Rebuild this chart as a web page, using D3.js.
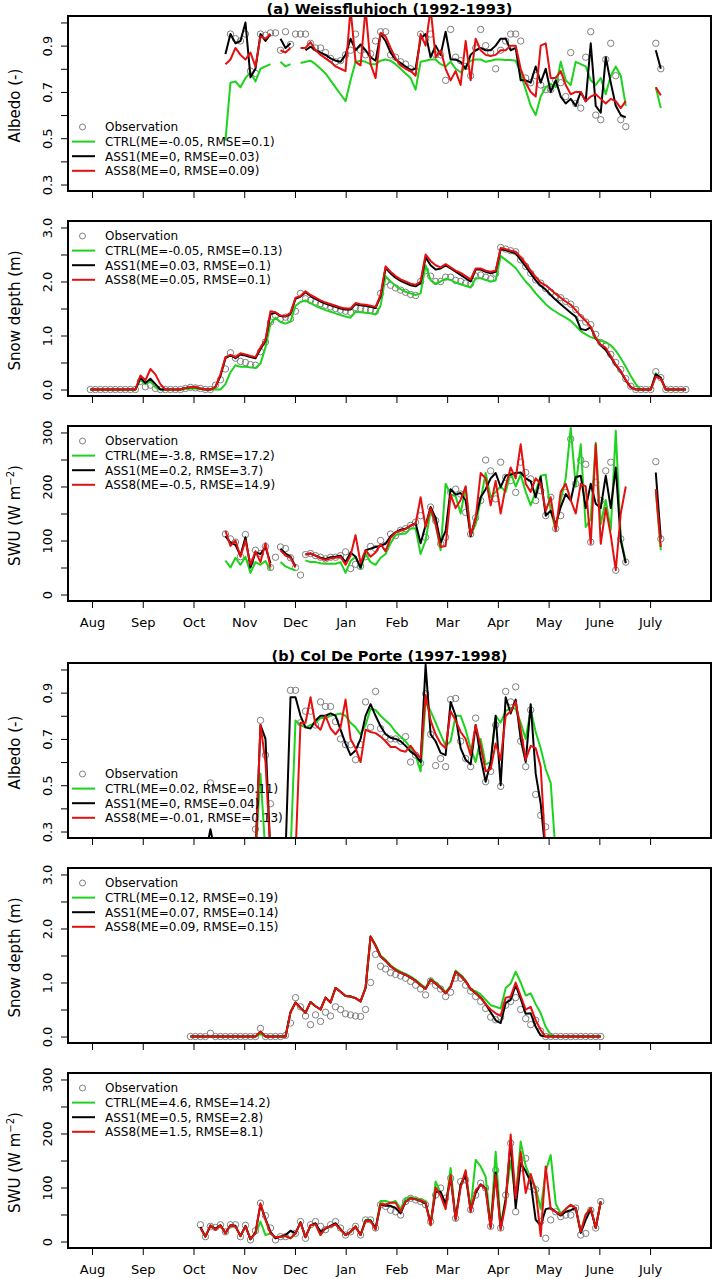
<!DOCTYPE html>
<html><head><meta charset="utf-8">
<script src="https://cdn.jsdelivr.net/npm/d3@7"></script>
<style>body{margin:0;background:#fff}svg{display:block}text{font-family:"DejaVu Sans",sans-serif}</style>
</head><body><svg id="c" width="714" height="1279"></svg>
<script>
// ---------- categories / ticks ----------
const monthLabels = ["Aug","Sep","Oct","Nov","Dec","Jan","Feb","Mar","Apr","May","June","July"];
const albTicks = [0.3,0.4,0.5,0.6,0.7,0.8,0.9,1.0], albLabels = [0.3,0.5,0.7,0.9];
const snowTicks = [0,0.5,1,1.5,2,2.5,3], snowLabels = [0,1,2,3];
const swuTicks = [0,50,100,150,200,250,300], swuLabels = [0,100,200,300];
const seriesNames = ["Observation","CTRL","ASS1","ASS8"];
const titleA = "(a) Weissfluhjoch (1992-1993)", titleB = "(b) Col De Porte (1997-1998)";
const legA_alb = ["Observation","CTRL(ME=-0.05, RMSE=0.1)","ASS1(ME=0, RMSE=0.03)","ASS8(ME=0, RMSE=0.09)"];
const legA_snow = ["Observation","CTRL(ME=-0.05, RMSE=0.13)","ASS1(ME=0.03, RMSE=0.1)","ASS8(ME=0.05, RMSE=0.1)"];
const legA_swu = ["Observation","CTRL(ME=-3.8, RMSE=17.2)","ASS1(ME=0.2, RMSE=3.7)","ASS8(ME=-0.5, RMSE=14.9)"];
const legB_alb = ["Observation","CTRL(ME=0.02, RMSE=0.11)","ASS1(ME=0, RMSE=0.04)","ASS8(ME=-0.01, RMSE=0.13)"];
const legB_snow = ["Observation","CTRL(ME=0.12, RMSE=0.19)","ASS1(ME=0.07, RMSE=0.14)","ASS8(ME=0.09, RMSE=0.15)"];
const legB_swu = ["Observation","CTRL(ME=4.6, RMSE=14.2)","ASS1(ME=0.5, RMSE=2.8)","ASS8(ME=1.5, RMSE=8.1)"];

// ---------- day grids (days since 1 Aug) ----------
const albA_days = d3.range(80, 342, 3);
const swuA_days = d3.range(80, 342, 3);
const snowA_days = d3.range(-1, 357, 3);
const albB_days = d3.range(62, 282, 3);
const snowB_days = d3.range(59, 306, 3);
const swuB_days = d3.range(65, 306, 3);

// ---------- (a) Albedo ----------
const albA_obs = [null,.95,.93,.92,.95,.79,.78,.95,.945,.955,
 .955,.88,.96,.905,.95,.95,.95,.91,.89,.89,
 .87,.845,.83,.835,.86,.88,.95,.88,.86,.865,
 .92,.96,.96,.86,.85,.83,.82,.80,.79,.95,
 .93,.95,.86,.86,.75,.97,.85,.835,.81,.77,
 .89,.97,.90,.87,.80,.88,.92,.95,.95,.92,
 .76,.74,.77,.73,.71,.71,.75,.74,.68,.87,
 .65,.63,.85,.96,.60,.58,.84,.91,.77,.58,
 .55,null,null,null,null,null,.91,.80];
const albA_ctrl = [.49,.74,.745,.72,.76,.785,.745,.80,.81,.82,
 null,.83,.81,.82,null,.825,.83,.835,.82,.80,
 .78,.75,.72,.69,.66,.75,.83,.835,.83,.82,
 .82,.835,.84,.835,.82,.80,.78,.76,.71,.83,
 .835,.84,.84,.82,.81,.83,.80,.785,.81,.835,
 .84,.84,.83,.835,.84,.84,.838,.838,.835,.78,
 .71,.64,.60,.68,.72,.735,.72,.83,.75,.73,
 .83,.82,.81,.75,.73,.76,.69,.77,.81,.77,
 .64,null,null,null,null,null,.72,.63];
const albA_ass1 = [.864,.95,.91,.92,1.0,.763,.80,.95,.92,.95,
 null,.93,.89,.91,null,null,.88,.895,.88,.87,
 .86,.845,.835,.83,.86,.93,.88,.905,.88,.85,
 .835,.95,.92,.87,.84,.825,.81,.795,.80,.93,
 .95,.85,.90,.86,.96,.84,.84,.83,.80,.86,
 .88,.89,.88,.88,.90,.93,.93,.88,.89,.75,
 .75,.74,.81,.74,.80,.70,.75,.68,.65,.67,
 .64,.70,.66,.91,.64,.61,.85,.74,.64,.60,
 .59,null,null,null,null,null,.88,.80];
const albA_ass8 = [.82,.84,.89,.86,.84,.87,.81,.94,.93,.95,
 null,.88,.87,.89,null,.89,.89,.915,.88,.86,
 .845,.83,.81,.80,.79,1.06,.83,.815,1.06,.82,
 .76,.955,.94,.89,.845,.815,.80,.79,.77,.95,
 .90,1.06,.85,.88,.80,.75,.79,.73,.92,.75,
 .93,.88,.86,.855,.86,.88,.88,.90,.90,.80,
 .74,.70,.68,.90,.91,.76,.76,.79,.73,.69,
 .70,.70,.66,.68,.69,.67,.65,.67,.66,.63,
 .66,null,null,null,null,null,.72,.685];

// ---------- (a) Snow depth ----------
const snowA_obs = [0,0,0,0,0,0,0,0,0,0,
 .15,.05,.08,.02,0,0,0,0,0,.02,
 .04,.03,.02,0,0,.08,.18,.38,.68,.58,
 .52,.5,.46,.45,.7,.88,1.25,1.37,1.31,1.34,
 1.31,1.45,1.78,1.68,1.65,1.62,1.59,1.56,1.53,1.5,
 1.47,1.45,1.43,1.52,1.5,1.48,1.47,1.45,1.78,2.0,
 1.93,1.88,1.84,1.8,1.76,1.74,2.0,2.2,2.1,2.0,
 2.0,2.08,2.08,2.02,2.0,1.97,1.96,2.1,2.12,2.08,
 2.05,2.15,2.63,2.6,2.57,2.55,2.4,2.28,2.15,2.03,
 1.97,1.87,1.8,1.73,1.7,1.63,1.58,1.48,1.33,1.25,
 1.2,1.02,.87,.8,.65,.5,.37,.2,.06,0,
 0,0,0,.33,.22,0,0,0,0,0];
const snowA_ctrl = [0,0,0,0,0,0,0,0,0,0,
 .18,.1,.15,.04,0,0,0,0,0,.01,
 .02,.02,.01,0,0,0,0,.1,.32,.45,
 .42,.42,.41,.4,.48,.78,1.22,1.33,1.25,1.22,
 1.26,1.55,1.62,1.65,1.6,1.55,1.51,1.47,1.44,1.41,
 1.38,1.35,1.33,1.44,1.43,1.42,1.41,1.39,1.55,2.1,
 2.0,1.92,1.86,1.81,1.78,1.75,1.78,2.3,2.02,1.96,
 2.0,2.05,2.03,1.98,1.95,1.92,1.89,2.06,2.06,2.03,
 2.0,2.02,2.47,2.4,2.33,2.25,2.12,2.0,1.9,1.78,
 1.68,1.58,1.5,1.44,1.38,1.33,1.27,1.18,1.08,1.02,
 .97,.94,.9,.88,.82,.72,.58,.42,.25,.1,
 0,0,0,.3,.2,0,0,0,0,0];
const snowA_ass1 = [0,0,0,0,0,0,0,0,0,0,
 .22,.12,.2,.1,0,0,0,0,0,.03,
 .04,.04,.02,0,0,.05,.25,.58,.63,.58,
 .65,.63,.6,.58,.75,.9,1.4,1.42,1.36,1.35,
 1.4,1.68,1.72,1.8,1.73,1.68,1.63,1.59,1.56,1.53,
 1.5,1.48,1.48,1.58,1.56,1.55,1.53,1.51,1.72,2.25,
 2.15,2.07,2.01,1.97,1.93,1.91,1.97,2.45,2.3,2.22,
 2.24,2.3,2.24,2.18,2.12,2.06,2.0,2.22,2.22,2.18,
 2.15,2.18,2.6,2.58,2.55,2.52,2.4,2.28,2.15,2.02,
 1.92,1.85,1.75,1.66,1.58,1.5,1.42,1.35,1.12,1.1,
 1.15,.95,.82,.73,.6,.45,.33,.17,.04,0,
 0,0,0,.28,.22,0,0,0,0,0];
const snowA_ass8 = [0,0,0,0,0,0,0,0,0,0,
 .26,.17,.38,.28,.1,0,0,0,0,.03,
 .04,.05,.02,0,0,.05,.28,.6,.64,.6,
 .67,.65,.62,.6,.78,.92,1.45,1.43,1.37,1.36,
 1.42,1.7,1.73,1.82,1.75,1.7,1.65,1.61,1.58,1.55,
 1.52,1.5,1.5,1.6,1.58,1.57,1.55,1.53,1.75,2.28,
 2.18,2.1,2.04,2.0,1.96,1.94,2.0,2.5,2.38,2.3,
 2.26,2.32,2.26,2.2,2.16,2.1,2.04,2.24,2.24,2.2,
 2.18,2.2,2.62,2.6,2.57,2.55,2.45,2.33,2.2,2.08,
 1.98,1.93,1.85,1.77,1.7,1.63,1.57,1.47,1.36,1.27,
 1.16,.95,.83,.77,.62,.46,.34,.18,.05,0,
 0,0,0,.24,.2,0,0,0,0,0];

// ---------- (a) SWU ----------
const swuA_obs = [112,103,97,70,111,60,82,76,89,50,
 69,88,85,68,50,36,74,76,72,69,
 66,69,69,72,79,48,56,52,70,89,
 85,100,91,112,109,119,122,128,134,146,
 106,162,137,94,106,189,195,186,152,112,
 142,174,249,229,177,245,217,211,189,245,
 226,214,174,192,146,180,122,146,189,288,
 205,249,241,97,208,174,229,245,45,103,
 60,null,null,null,null,null,246,103];
const swuA_ctrl = [63,50,68,55,70,40,60,55,62,45,
 null,60,52,48,45,null,63,60,60,58,
 57,57,57,60,40,62,70,48,75,60,
 55,68,75,95,110,112,113,122,122,75,
 100,155,130,82,205,185,182,150,200,110,
 130,175,225,180,190,200,190,225,200,222,
 190,165,190,220,222,155,120,175,215,309,
 200,278,125,140,281,130,175,120,303,105,
 60,null,null,null,null,null,192,82];
const swuA_ass1 = [108,96,92,72,106,50,78,75,88,58,
 null,85,76,70,52,null,74,76,72,68,
 66,69,70,72,60,78,70,50,82,85,
 88,90,94,108,115,120,122,127,132,95,
 128,162,142,96,118,195,185,188,174,108,
 142,180,195,215,225,199,220,222,225,226,
 215,210,180,218,146,155,130,162,186,174,
 217,220,160,205,168,160,220,160,235,100,
 58,null,null,null,null,null,226,103];
const swuA_ass8 = [118,90,100,70,100,55,80,60,95,50,
 null,82,72,68,50,null,74,76,72,67,
 64,67,68,70,55,72,110,58,82,70,
 78,93,80,105,115,118,121,128,131,180,
 125,160,130,88,90,185,160,175,200,110,
 140,225,215,165,210,150,200,235,215,278,
 205,190,215,205,155,180,118,190,205,175,
 150,205,200,94,278,94,160,110,45,150,
 200,null,null,null,null,null,195,88];

// ---------- (b) Albedo ----------
const albB_obs = [null,null,null,.51,null,null,null,null,null,null,
 null,null,.31,.78,.63,.42,null,null,null,.91,
 .91,.77,.82,.82,.76,.86,.84,.84,.775,.70,
 .675,.675,.61,.675,.86,.75,.905,.745,.71,.70,
 .70,.69,.71,.60,.63,.595,.895,.72,.585,.615,
 .58,.87,.875,.69,.615,.58,.79,.645,.515,.56,
 .76,.495,.905,.86,.925,.69,.58,.825,.46,.37,
 .32,null,null,null];
const albB_ctrl = [.2,.2,.2,.2,.2,.2,.2,.2,.2,.2,
 .2,.2,.2,.55,.2,.2,.2,.2,.2,.2,
 .78,.76,.75,.76,.77,.79,.79,.80,.805,.81,
 .80,.77,.75,.72,.76,.83,.825,.80,.78,.76,
 .73,.71,.69,.66,.63,.56,.86,.82,.77,.72,
 .67,.69,.80,.80,.74,.66,.60,.70,.59,.60,
 .80,.77,.82,.835,.83,.77,.70,.825,.73,.66,
 .57,.51,.2,.2];
const albB_ass1 = [.2,.2,.2,.31,.2,.2,.2,.2,.2,.2,
 .2,.2,.2,.76,.70,.2,.2,.2,.2,.88,
 .88,.80,.75,.745,.78,.80,.80,.81,.80,.74,
 .68,.63,.65,.70,.80,.85,.80,.755,.72,.705,
 .70,.69,.67,.645,.63,.60,1.02,.72,.69,.64,
 .63,.86,.80,.66,.61,.59,.76,.62,.515,.60,
 .80,.50,.88,.81,.87,.70,.60,.85,.55,.42,
 .2,.2,.2,.2];
const albB_ass8 = [.2,.2,.2,.2,.2,.2,.2,.2,.2,.2,
 .2,.2,.2,.76,.60,.2,.2,.2,.2,.2,
 .2,.77,.77,.88,.76,.74,.80,.745,.72,.75,
 .87,.70,.66,.60,.74,.73,.725,.71,.69,.665,
 .665,.65,.645,.67,.64,.617,.89,.78,.72,.68,
 .66,.82,.78,.73,.70,.63,.76,.67,.56,.57,
 .68,.61,.80,.82,.86,.74,.61,.67,.66,.58,
 .2,.2,.2,.2];

// ---------- (b) Snow depth ----------
const snowB_obs = [0,0,0,0,.06,0,0,0,0,0,
 0,0,0,0,.15,0,0,0,0,.02,
 .25,.72,.55,.38,.22,.4,.28,.45,.38,.55,
 .5,.42,.4,.38,.37,.5,1.0,1.52,1.3,1.25,
 1.18,1.15,1.12,1.08,1.02,.95,.88,.77,1.03,.95,
 .88,.74,.82,1.08,1.08,.95,.84,.74,.65,.52,
 .36,.31,.36,.58,.65,.72,.5,.33,.22,.3,
 .1,0,0,0,0,0,0,0,0,0,
 0,0,0];
const snowB_ctrl = [0,0,0,0,0,0,0,0,0,0,
 0,0,0,0,.05,0,0,0,0,0,
 .45,.63,.53,.44,.64,.56,.5,.72,.63,.9,
 .83,.75,.74,.71,.65,.9,1.85,1.7,1.5,1.42,
 1.32,1.25,1.2,1.16,1.11,1.05,.97,.9,1.07,1.0,
 .92,.82,.94,1.22,1.14,1.04,.86,.84,.78,.68,
 .58,.55,.52,.9,.98,1.2,1.0,.76,.8,.6,
 .43,.18,.03,0,0,0,0,0,0,0,
 0,0,0];
const snowB_ass1 = [0,0,0,0,0,0,0,0,0,0,
 0,0,0,0,.09,0,0,0,0,0,
 .45,.63,.53,.44,.64,.56,.5,.72,.63,.9,
 .83,.75,.74,.71,.65,.9,1.85,1.68,1.48,1.4,
 1.3,1.23,1.18,1.14,1.09,1.03,.95,.88,1.05,.98,
 .9,.8,.92,1.2,1.12,1.02,.88,.8,.72,.6,
 .45,.3,.25,.62,.68,.95,.7,.42,.43,.18,
 .02,0,0,0,0,0,0,0,0,0,
 0,0,0];
const snowB_ass8 = [0,0,0,0,0,0,0,0,0,0,
 0,0,0,0,.09,0,0,0,0,0,
 .45,.63,.53,.44,.64,.56,.5,.72,.63,.9,
 .83,.75,.74,.71,.65,.9,1.85,1.68,1.48,1.4,
 1.3,1.23,1.18,1.14,1.09,1.03,.95,.88,1.05,.98,
 .9,.8,.92,1.2,1.12,1.02,.88,.8,.72,.6,
 .5,.43,.38,.72,.74,1.0,.75,.5,.55,.3,
 .12,0,0,0,0,0,0,0,0,0,
 0,0,0];

// ---------- (b) SWU ----------
const swuB_obs = [31,9,28,26,31,18,31,31,9,30,
 3,20,71,48,25,3,9,9,12,15,
 37,6,31,37,28,22,31,37,25,12,
 18,28,12,40,40,25,68,65,58,55,
 49,74,80,77,74,68,37,86,99,80,
 117,43,111,114,59,86,108,99,28,132,
 25,86,182,55,136,154,102,96,37,6,
 40,55,46,49,49,62,12,15,58,25,
 74];
const swuB_ctrl = [25,9,30,22,30,15,30,28,10,28,
 5,15,37,12,15,8,9,10,6,15,
 35,8,30,32,12,25,28,32,22,12,
 18,28,12,40,40,24,75,75,72,75,
 60,80,82,80,78,75,30,111,90,62,
 136,42,105,129,60,151,139,120,28,166,
 30,80,150,80,185,140,117,100,60,130,
 160,70,52,60,68,62,18,50,62,25,
 74];
const swuB_ass1 = [27,9,29,24,30,16,30,29,10,29,
 4,17,68,42,18,6,9,12,20,15,
 36,8,30,34,18,24,29,34,23,12,
 18,28,12,39,39,24,69,66,66,62,
 52,74,80,78,75,70,34,92,92,70,
 118,42,105,122,57,90,106,98,27,128,
 24,78,185,62,145,130,110,40,30,60,
 62,55,48,55,58,62,16,40,60,25,
 74];
const swuB_ass8 = [25,9,30,22,30,15,30,28,10,28,
 5,15,71,40,15,8,9,10,6,15,
 35,8,30,32,12,25,28,32,22,12,
 18,28,12,38,38,22,70,68,72,72,
 55,74,80,78,76,72,30,100,85,60,
 123,40,100,132,55,95,105,97,25,123,
 22,70,198,80,166,90,125,95,10,139,
 60,55,50,60,68,62,18,50,62,25,
 74];

// ---------- drawing ----------
const svg = d3.select("#c");
const L = 68, R = 711, PH = 175;
const FONT = "DejaVu Sans";
const colors = {ctrl:"#1ed21e", ass1:"#000000", ass8:"#e41010", obs:"#7f7f7f"};
const x = d3.scaleLinear().domain([-14.4, 371.1]).range([L, R]);
const monthTicks = monthLabels.map((m, i) => i * 365 / 12);

const panels = [
 {top:16, days:albA_days, obs:albA_obs, ctrl:albA_ctrl, ass1:albA_ass1, ass8:albA_ass8, ydom:[0.272,1.028], ticks:albTicks, labels:albLabels, fmt:".1f", ytitle:"Albedo (-)", legend:legA_alb, legPos:"bottom", months:false},
 {top:221, days:snowA_days, obs:snowA_obs, ctrl:snowA_ctrl, ass1:snowA_ass1, ass8:snowA_ass8, ydom:[-0.12,3.12], ticks:snowTicks, labels:snowLabels, fmt:".1f", ytitle:"Snow depth (m)", legend:legA_snow, legPos:"top", months:false},
 {top:426, days:swuA_days, obs:swuA_obs, ctrl:swuA_ctrl, ass1:swuA_ass1, ass8:swuA_ass8, ydom:[-12,312], ticks:swuTicks, labels:swuLabels, fmt:"d", ytitle:"SWU", legend:legA_swu, legPos:"top", months:true},
 {top:663, days:albB_days, obs:albB_obs, ctrl:albB_ctrl, ass1:albB_ass1, ass8:albB_ass8, ydom:[0.272,1.028], ticks:albTicks, labels:albLabels, fmt:".1f", ytitle:"Albedo (-)", legend:legB_alb, legPos:"bottom", months:false},
 {top:868, days:snowB_days, obs:snowB_obs, ctrl:snowB_ctrl, ass1:snowB_ass1, ass8:snowB_ass8, ydom:[-0.12,3.12], ticks:snowTicks, labels:snowLabels, fmt:".1f", ytitle:"Snow depth (m)", legend:legB_snow, legPos:"top", months:false},
 {top:1073, days:swuB_days, obs:swuB_obs, ctrl:swuB_ctrl, ass1:swuB_ass1, ass8:swuB_ass8, ydom:[-12,312], ticks:swuTicks, labels:swuLabels, fmt:"d", ytitle:"SWU", legend:legB_swu, legPos:"top", months:true}
];

const defs = svg.append("defs");

panels.forEach((p, pi) => {
  const top = p.top, bot = top + PH;
  const y = d3.scaleLinear().domain(p.ydom).range([bot, top]);
  const g = svg.append("g");
  const cid = "clip" + pi;
  defs.append("clipPath").attr("id", cid).append("rect")
    .attr("x", L).attr("y", top).attr("width", R - L).attr("height", PH);
  const rows = p.days.map((d, i) => ({d, obs:p.obs[i], ctrl:p.ctrl[i], ass1:p.ass1[i], ass8:p.ass8[i]}));
  const pg = g.append("g").attr("clip-path", `url(#${cid})`);
  pg.selectAll("circle").data(rows.filter(r => r.obs != null)).join("circle")
    .attr("cx", r => x(r.d)).attr("cy", r => y(r.obs)).attr("r", 3.2)
    .attr("fill", "none").attr("stroke", colors.obs).attr("stroke-width", 1);
  ["ctrl","ass1","ass8"].forEach(k => {
    const line = d3.line().defined(r => r[k] != null).x(r => x(r.d)).y(r => y(r[k]));
    pg.append("path").datum(rows).attr("d", line).attr("fill", "none")
      .attr("stroke", colors[k]).attr("stroke-width", 2).attr("stroke-linejoin", "round");
  });

  // y axis
  const isLab = v => p.labels.some(l => Math.abs(l - v) < 1e-9);
  const ya = g.append("g").attr("transform", `translate(${L},0)`)
    .call(d3.axisLeft(y).tickValues(p.ticks).tickSize(7).tickFormat(v => isLab(v) ? d3.format(p.fmt)(v) : ""));
  ya.select(".domain").remove();
  ya.attr("font-size", 13).attr("font-family", FONT);
  ya.selectAll("line").attr("stroke", "#000");
  ya.selectAll("text").attr("transform", "rotate(-90)").attr("x", 0).attr("y", -16).attr("dy", 0)
    .attr("text-anchor", "middle").attr("fill", "#000");

  // x axis
  const xa = g.append("g").attr("transform", `translate(0,${bot})`)
    .call(d3.axisBottom(x).tickValues(monthTicks).tickSize(7).tickPadding(10)
      .tickFormat((d, i) => p.months ? monthLabels[i] : ""));
  xa.select(".domain").remove();
  xa.attr("font-size", 13).attr("font-family", FONT);
  xa.selectAll("line").attr("stroke", "#000");
  xa.selectAll("text").attr("fill", "#000");

  // box
  g.append("rect").attr("x", L).attr("y", top).attr("width", R - L).attr("height", PH)
    .attr("fill", "none").attr("stroke", "#000").attr("stroke-width", 2);

  // y title
  const yt = g.append("text").attr("transform", `translate(20,${top + PH / 2 + 2}) rotate(-90)`)
    .attr("text-anchor", "middle").attr("font-size", 15).attr("fill", "#000");
  if (p.ytitle === "SWU") {
    yt.append("tspan").text("SWU (W m");
    yt.append("tspan").attr("font-size", 10).attr("dy", -6).text("\u22122");
    yt.append("tspan").attr("dy", 6).text(")");
  } else {
    yt.text(p.ytitle);
  }

  // legend
  const base = p.legPos === "bottom" ? bot - 64 : top + 15;
  p.legend.forEach((t, i) => {
    const ly = base + i * 14.6;
    if (i === 0) {
      g.append("circle").attr("cx", 82.5).attr("cy", ly).attr("r", 3)
        .attr("fill", "none").attr("stroke", colors.obs).attr("stroke-width", 1);
    } else {
      const k = ["ctrl","ass1","ass8"][i - 1];
      g.append("line").attr("x1", 72).attr("x2", 95).attr("y1", ly).attr("y2", ly)
        .attr("stroke", colors[k]).attr("stroke-width", 2);
    }
    g.append("text").attr("x", 105).attr("y", ly).attr("dy", "0.36em")
      .attr("font-size", 12).attr("fill", "#000").text(t);
  });
});

// titles
svg.append("text").attr("x", (L + R) / 2).attr("y", 14).attr("text-anchor", "middle")
  .attr("font-size", 14.5).attr("font-weight", "bold").text(titleA);
svg.append("text").attr("x", (L + R) / 2).attr("y", 661).attr("text-anchor", "middle")
  .attr("font-size", 14.5).attr("font-weight", "bold").text(titleB);
</script></body></html>
